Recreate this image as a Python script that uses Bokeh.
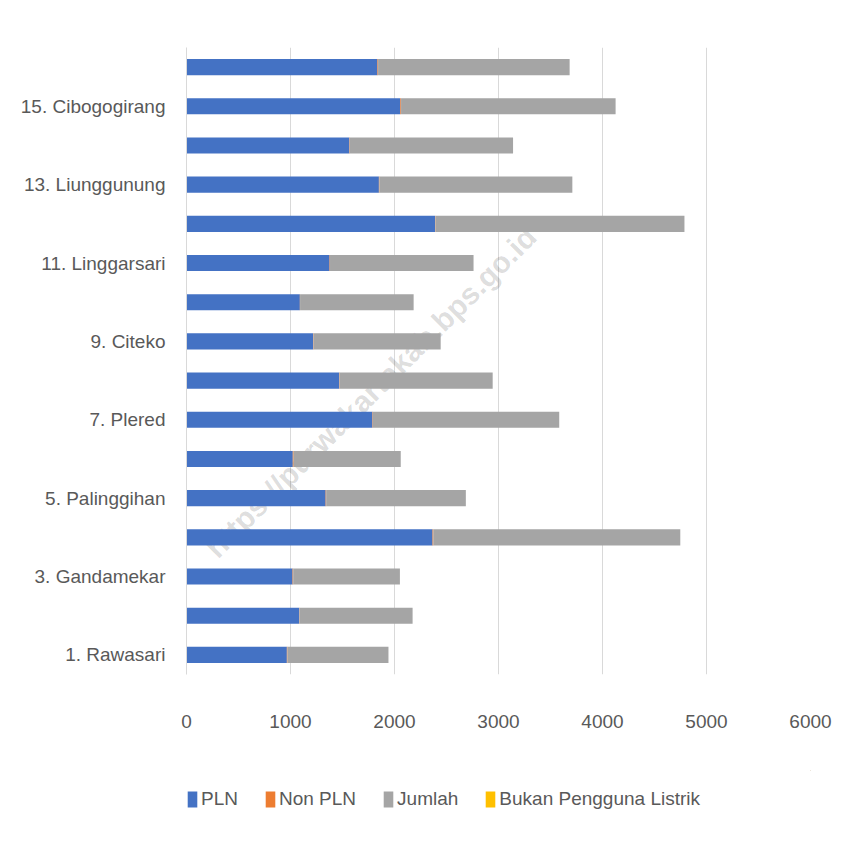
import math
from bokeh.plotting import figure
from bokeh.layouts import column
from bokeh.models import (ColumnDataSource, Range1d, FixedTicker, Legend, LegendItem, Label)
from bokeh.embed import file_html
from bokeh.resources import INLINE

# ---- data ----
names = ["1. Rawasari", "2. Sempur", "3. Gandamekar", "4. Babakansari", "5. Palinggihan",
         "6. Pamoyanan", "7. Plered", "8. Anjun", "9. Citeko", "10. Citeko Kaler",
         "11. Linggarsari", "12. Gandasoli", "13. Liunggunung", "14. Cibogo",
         "15. Cibogogirang", "16. Begaganlimo"]
pln = [965, 1084, 1020, 2366, 1338, 1022, 1788, 1468, 1218, 1090, 1376, 2390, 1850, 1566, 2056, 1836]
non_pln = [6, 3, 6, 8, 5, 8, 4, 4, 4, 2, 4, 4, 5, 4, 7, 6]
jumlah = [971, 1087, 1026, 2374, 1343, 1030, 1792, 1472, 1222, 1092, 1380, 2394, 1855, 1570, 2063, 1842]
bukan = [0] * 16
series = ["PLN", "Non PLN", "Jumlah", "Bukan Pengguna Listrik"]
colors = ["#4472C4", "#ED7D31", "#A5A5A5", "#FFC000"]
x_ticks = [0, 1000, 2000, 3000, 4000, 5000, 6000]
watermark = "https://purwakartakab.bps.go.id"

FONT = "Liberation Sans"
FS = "19px"
TXT = "#595959"

src = ColumnDataSource(dict(y=list(range(1, len(names) + 1)), pln=pln, non=non_pln,
                            jml=jumlah, bukan=bukan))

p = figure(width=850, height=770, output_backend="svg", toolbar_location=None,
           x_range=Range1d(0, 6000), y_range=Range1d(0.5, 16.5),
           min_border_left=186, min_border_right=40, min_border_top=47,
           min_border_bottom=96)
p.outline_line_color = None

rs = p.hbar_stack(["pln", "non", "jml", "bukan"], y="y", height=0.41, color=colors,
                  source=src, line_color=None)

# axes
p.xaxis.ticker = FixedTicker(ticks=x_ticks)
p.xaxis.axis_line_color = None
p.xaxis.major_tick_line_color = None
p.xaxis.minor_tick_line_color = None
p.xaxis.major_label_standoff = 34
p.xaxis.major_label_text_font = FONT
p.xaxis.major_label_text_font_size = FS
p.xaxis.major_label_text_color = TXT

p.yaxis.ticker = FixedTicker(ticks=[i for i in range(1, 17, 2)])
p.yaxis.major_label_overrides = {i + 1: names[i] for i in range(0, 16, 2)}
p.yaxis.axis_line_color = "#D9D9D9"
p.yaxis.major_tick_line_color = None
p.yaxis.minor_tick_line_color = None
p.yaxis.major_label_standoff = 15
p.yaxis.major_label_text_font = FONT
p.yaxis.major_label_text_font_size = FS
p.yaxis.major_label_text_color = TXT

p.xgrid.ticker = FixedTicker(ticks=x_ticks)
p.xgrid.grid_line_color = "#D9D9D9"
p.ygrid.grid_line_color = None

# watermark (kept inside the plot frame)
wm = Label(x=231, y=3.62, text=watermark, angle=math.pi / 4,
           text_font="Liberation Sans", text_font_style="bold", text_font_size="30px",
           text_color="#000000", text_alpha=0.14, text_baseline="alphabetic",
           text_align="left", level="underlay")
p.add_layout(wm)

# legend strip under the chart (its frame is aligned with the chart's frame)
lf = figure(width=850, height=80, output_backend="svg", toolbar_location=None,
            x_range=Range1d(0, 1), y_range=Range1d(0, 1),
            min_border_left=186, min_border_right=40, min_border_top=0, min_border_bottom=0)
lf.axis.visible = False
lf.grid.visible = False
lf.outline_line_color = None
dummies = [lf.hbar(y=[5], left=[5], right=[6], height=0.5, color=c, line_color=None)
           for c in colors]
legend = Legend(items=[LegendItem(label=s, renderers=[r]) for s, r in zip(series, dummies)],
                orientation="horizontal", location=(0, 40), glyph_width=12, glyph_height=20,
                label_standoff=3, spacing=26, padding=0, margin=0,
                label_text_font=FONT, label_text_font_size=FS,
                label_text_color=TXT, border_line_color=None, background_fill_alpha=0)
lf.add_layout(legend)

open("out.html", "w").write(file_html(column(p, lf, spacing=0), INLINE))
